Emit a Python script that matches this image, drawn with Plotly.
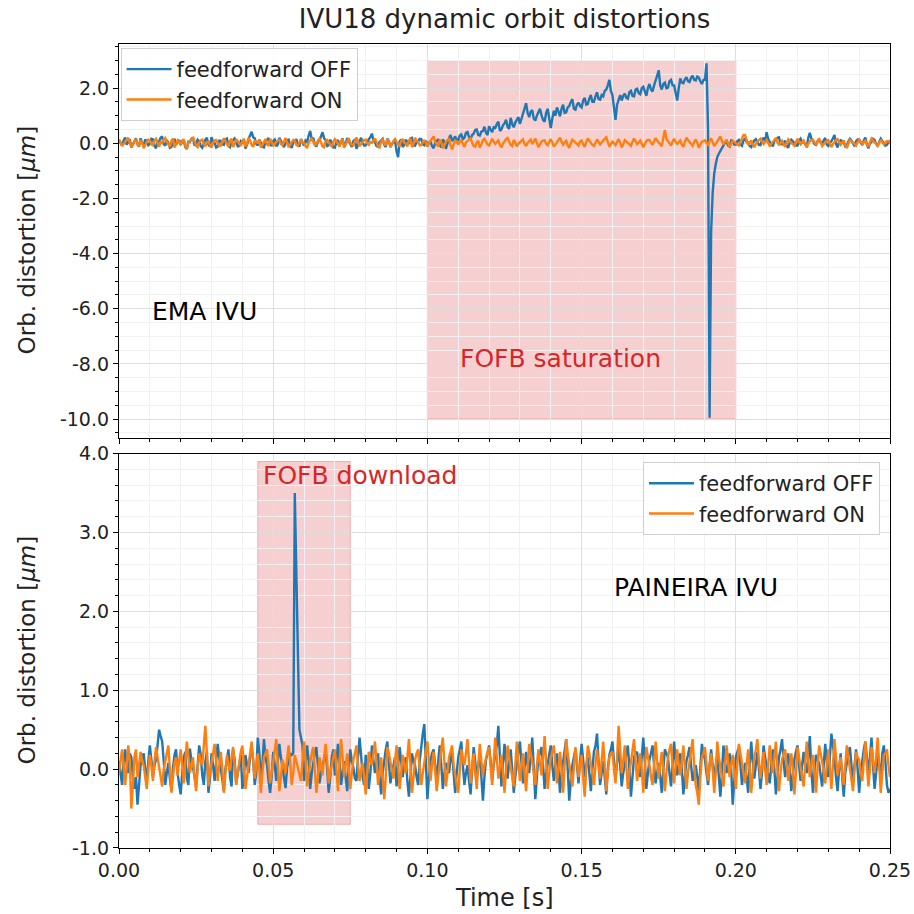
import numpy as np
import plotly.graph_objects as go
from plotly.subplots import make_subplots

# sample step of the recorded signals [s]
dt = 0.0005

# EMA IVU, orbit distortion [um]
ema_off = [
    0.12, 0.02, -0.08, 0.1, 0.21, -0.05, 0.03, 0.15, -0.15, -0.02, 0.09, 0.18, -0.04, -0.12, 0.18, 0.05, -0.11, 0.14, 0.06, -0.07,
    -0.02, 0.16, 0.14, -0.1, -0.18, 0.04, 0.07, 0.2, 0.25, -0.03, -0.09, 0.11, 0.02, -0.16, -0.13, 0.08, 0.16, -0.05, 0.04, 0.12,
    -0.07, 0.09, 0.11, -0.14, -0.21, 0.06, 0.05, 0.17, 0.19, -0.08, -0.03, 0.13, 0.08, -0.1, -0.16, 0.03, 0.13, 0.2, -0.05, -0.12,
    0.22, 0.07, 0.01, -0.15, -0.12, 0.1, 0.09, -0.04, -0.06, 0.14, 0.17, -0.09, -0.14, 0.05, 0.1, 0.18, 0.06, -0.11, -0.1, 0.08,
    0.04, 0.15, -0.19, -0.06, 0.15, 0.3, 0.42, 0.22, 0.18, -0.02, -0.08, 0.12, 0.03, -0.13, -0.15, 0.06, 0.12, 0.19, -0.02, -0.1,
    0.09, 0.14, -0.11, -0.04, 0.2, 0.07, -0.06, -0.14, 0.01, 0.11, 0.13, -0.08, -0.17, 0.03, 0.07, 0.15, -0.04, -0.12, 0.16, 0.05,
    -0.09, 0.1, 0.05, 0.28, 0.45, 0.14, 0.2, -0.05, -0.12, 0.06, 0.08, 0.25, 0.4, 0.18, 0.11, -0.1, -0.07, 0.13, 0.02, -0.15,
    -0.16, 0.04, 0.12, -0.08, 0.06, 0.17, -0.1, -0.02, 0.19, 0.09, -0.03, -0.13, 0.08, 0.15, -0.2, -0.06, 0.1, 0.2, 0.03, -0.09,
    -0.08, 0.07, 0.15, 0.22, 0.35, 0.1, 0.04, -0.1, -0.13, 0.05, 0.09, 0.16, -0.05, -0.14, 0.17, 0.08, -0.11, -0.03, 0.02, 0.12,
    -0.3, -0.5, 0.07, 0.14, -0.14, -0.05, 0.13, 0.06, -0.02, 0.18, 0.2, -0.08, -0.09, 0.04, 0.06, 0.16, 0.15, -0.04, -0.07, 0.1,
    -0.12, 0.03, 0.05, -0.1, -0.18, 0.0, 0.1, 0.15, -0.06, -0.15, 0.14, 0.05, -0.2, 0.02, 0.18, 0.3, 0.08, 0.15, 0.25, 0.1,
    0.12, 0.28, 0.32, 0.15, 0.2, 0.38, 0.41, 0.22, 0.15, 0.3, 0.35, 0.48, 0.5, 0.3, 0.28, 0.42, 0.45, 0.6, 0.38, 0.3,
    0.62, 0.5, 0.4, 0.58, 0.55, 0.7, 0.78, 0.45, 0.5, 0.65, 0.72, 0.85, 0.6, 0.52, 0.92, 0.7, 0.58, 0.75, 0.85, 0.95,
    0.7, 0.9, 1.05, 1.3, 1.45, 1.1, 0.95, 1.15, 1.2, 0.9, 0.82, 1.0, 1.15, 1.25, 1.02, 0.85, 0.78, 1.1, 1.25, 0.95,
    0.55, 0.9, 1.18, 1.0, 1.3, 1.15, 0.98, 1.25, 1.4, 1.1, 1.12, 1.3, 1.35, 1.5, 1.6, 1.25, 1.22, 1.4, 1.48, 1.35,
    1.3, 1.55, 1.65, 1.4, 1.42, 1.62, 1.75, 1.5, 1.5, 1.7, 1.85, 1.6, 1.58, 1.75, 1.7, 1.9, 1.95, 2.1, 2.3, 1.9,
    1.75, 1.3, 0.85, 1.4, 1.6, 1.75, 1.55, 1.72, 1.8, 1.65, 1.62, 1.85, 1.9, 1.72, 1.7, 1.95, 1.98, 1.82, 1.78, 2.0,
    2.05, 1.85, 1.72, 2.0, 2.15, 1.95, 1.88, 2.1, 2.25, 2.45, 2.65, 2.1, 1.95, 2.15, 2.2, 2.0, 2.02, 2.25, 2.3, 2.1,
    2.1, 1.8, 1.55, 2.0, 2.35, 2.2, 2.18, 2.32, 2.4, 2.25, 2.22, 2.38, 2.45, 2.3, 2.28, 2.42, 2.38, 2.25, 2.15, 2.3,
    2.3, 2.9, 0.5, -9.95, -3.2, -1.8, -1.1, -0.75, -0.5, -0.38, -0.28, -0.2, -0.12, 0.02, 0.05, -0.08, -0.12, 0.1, 0.08, -0.04,
    -0.05, 0.08, 0.12, -0.04, -0.09, 0.1, 0.18, 0.05, 0.03, -0.1, -0.14, 0.02, 0.1, 0.15, 0.02, -0.06, -0.07, 0.12, 0.2, 0.06,
    0.4, 0.15, 0.06, -0.05, -0.11, 0.08, 0.15, 0.2, 0.22, -0.02, -0.04, 0.05, 0.09, -0.1, -0.16, 0.04, 0.13, 0.07, 0.01, -0.08,
    -0.08, 0.1, 0.17, 0.03, 0.05, -0.06, -0.12, 0.2, 0.38, 0.16, 0.1, -0.03, -0.06, 0.08, 0.14, 0.04, -0.02, 0.11, 0.19, -0.05,
    -0.1, 0.02, 0.07, 0.18, 0.3, -0.02, -0.15, 0.04, 0.11, 0.08, 0.03, -0.12, -0.09, 0.06, 0.16, 0.1, -0.04, -0.11, 0.08, 0.14,
    0.13, 0.02, -0.07, 0.1, 0.21, -0.04, -0.18, 0.0, 0.05, 0.16, 0.12, -0.02, -0.1, 0.06, 0.17, 0.09, 0.02, -0.09, -0.06, 0.04,
    0.1,
]
ema_on = [
    0.15, 0.04, -0.1, -0.02, 0.05, 0.14, 0.2, 0.03, -0.14, -0.05, 0.08, 0.12, -0.03, -0.1, 0.12, 0.02, -0.18, -0.06, 0.04, 0.13,
    0.1, -0.04, -0.07, 0.09, 0.16, -0.02, -0.12, 0.05, 0.02, 0.14, 0.19, 0.06, -0.05, -0.13, 0.09, 0.17, -0.15, -0.03, 0.11, 0.04,
    -0.02, 0.08, 0.14, -0.08, -0.2, 0.02, 0.07, 0.15, 0.22, 0.05, -0.09, -0.14, 0.03, 0.1, 0.13, -0.02, -0.11, 0.04, 0.06, -0.07,
    -0.16, 0.02, 0.1, 0.12, 0.01, -0.1, -0.08, 0.06, 0.18, 0.08, -0.04, -0.12, 0.09, 0.16, -0.13, -0.03, 0.15, 0.05, -0.01, -0.09,
    0.07, 0.12, -0.12, -0.02, 0.2, 0.1, -0.06, -0.13, 0.11, 0.04, 0.02, 0.14, -0.15, -0.06, 0.08, 0.15, -0.03, -0.1, 0.16, 0.06,
    -0.1, -0.02, 0.05, 0.11, 0.13, -0.03, -0.07, 0.08, 0.19, 0.02, -0.14, -0.05, 0.04, 0.12, 0.1, -0.06, -0.09, 0.05, 0.14, 0.03,
    0.01, -0.1, -0.17, 0.04, 0.12, 0.16, 0.06, -0.06, -0.05, 0.1, 0.17, 0.02, -0.11, -0.14, 0.08, 0.12, 0.02, -0.04, -0.13, 0.05,
    0.15, 0.08, -0.04, -0.12, 0.09, 0.14, -0.16, -0.05, 0.11, 0.18, 0.03, -0.06, -0.08, 0.1, 0.21, 0.07, -0.1, -0.03, 0.06, 0.12,
    0.13, -0.01, -0.06, 0.05, 0.02, 0.1, 0.18, 0.04, -0.12, -0.15, 0.07, 0.13, -0.02, -0.08, 0.14, 0.06, -0.15, -0.04, 0.09, 0.15,
    0.04, -0.05, -0.09, 0.08, 0.16, 0.03, -0.03, -0.11, 0.1, 0.17, -0.14, -0.02, 0.2, 0.09, 0.05, -0.08, -0.07, 0.04, 0.12, 0.02,
    -0.11, 0.0, 0.08, 0.18, 0.25, 0.06, -0.05, -0.12, 0.13, 0.03, -0.18, -0.04, 0.06, 0.12, 0.15, -0.06, -0.22, -0.05, 0.1, 0.07,
    -0.04, 0.06, 0.12, -0.02, -0.13, 0.03, 0.07, 0.14, 0.18, 0.02, -0.09, -0.12, 0.03, 0.09, -0.16, -0.03, 0.11, 0.16, 0.05, -0.04,
    -0.08, 0.05, 0.16, 0.06, -0.02, 0.04, 0.1, -0.06, -0.15, -0.02, 0.08, 0.15, 0.19, 0.05, -0.06, -0.1, 0.12, 0.03, -0.11, -0.02,
    0.04, 0.1, 0.14, -0.02, -0.1, 0.02, 0.09, 0.13, -0.03, 0.06, 0.17, 0.02, -0.14, -0.05, 0.06, 0.1, 0.11, -0.02, -0.07, 0.05,
    0.15, 0.03, -0.12, -0.05, 0.02, 0.12, 0.2, 0.06, -0.05, 0.03, 0.09, -0.08, -0.17, 0.0, 0.13, 0.08, 0.03, -0.04, -0.08, 0.06,
    0.1, -0.03, -0.13, 0.04, 0.18, 0.09, 0.01, -0.06, -0.1, 0.05, 0.14, 0.05, -0.04, 0.03, 0.08, 0.16, 0.22, 0.04, -0.12, -0.03,
    0.06, 0.0, -0.07, 0.05, 0.15, 0.02, -0.15, -0.04, 0.11, 0.07, 0.02, -0.05, -0.09, 0.06, 0.17, 0.08, -0.03, 0.03, 0.1, -0.02,
    -0.14, -0.03, 0.08, 0.12, 0.12, 0.02, -0.06, 0.07, 0.19, 0.1, 0.04, -0.06, -0.11, 0.2, 0.48, 0.15, 0.07, -0.02, -0.08, 0.06,
    0.16, 0.05, -0.02, 0.04, 0.1, -0.04, -0.13, 0.05, 0.2, 0.12, 0.05, -0.03, -0.09, 0.04, 0.14, 0.02, -0.16, -0.05, 0.06, 0.08,
    0.11, 0.02, -0.05, 0.07, 0.18, 0.04, -0.1, -0.02, 0.08, 0.16, 0.25, 0.08, -0.04, 0.05, 0.13, 0.0, -0.12, -0.02, 0.09, 0.05,
    0.02, -0.04, -0.08, 0.06, 0.15, 0.3, 0.3, 0.1, -0.06, 0.02, 0.1, -0.03, -0.14, -0.02, 0.07, 0.12, 0.17, 0.06, -0.03, 0.05,
    0.12, 0.01, -0.11, -0.02, 0.05, 0.12, 0.19, 0.04, -0.07, 0.02, 0.09, -0.04, -0.13, 0.01, 0.14, 0.07, 0.01, -0.05, -0.09, 0.04,
    0.16, 0.06, -0.04, 0.03, 0.1, -0.03, -0.15, -0.02, 0.08, 0.11, 0.13, 0.04, -0.06, 0.06, 0.18, 0.04, -0.1, -0.03, 0.04, 0.08,
    0.11, -0.02, -0.13, -0.03, 0.07, 0.12, 0.15, 0.05, -0.05, 0.03, 0.1, -0.06, -0.17, -0.02, 0.12, 0.08, 0.03, -0.03, -0.08, 0.04,
    0.14, 0.06, -0.02, 0.04, 0.09, -0.02, -0.12, 0.03, 0.17, 0.1, 0.05, -0.03, -0.1, 0.02, 0.13, 0.04, -0.04, 0.03, 0.08, 0.06,
    0.1,
]

# PAINEIRA IVU, orbit distortion [um]
pai_off = [
    0.1, -0.05, -0.2, 0.1, 0.25, 0.05, -0.05, 0.2, 0.15, -0.1, -0.25, -0.1, -0.45, -0.2, 0.05, 0.15, 0.2, 0.0, -0.15, 0.1,
    0.3, 0.12, -0.1, 0.05, 0.12, 0.3, 0.5, 0.42, 0.35, 0.1, -0.2, -0.05, 0.08, -0.12, -0.28, 0.02, 0.18, 0.25, -0.05, -0.2,
    -0.32, -0.05, 0.15, 0.22, -0.12, -0.2, 0.26, 0.1, 0.02, -0.1, -0.22, 0.05, 0.3, 0.18, -0.08, -0.2, 0.1, 0.22, -0.3, -0.12,
    0.2, 0.05, -0.15, 0.1, 0.32, 0.15, -0.02, -0.15, -0.28, 0.0, 0.14, 0.25, -0.1, -0.22, 0.25, 0.12, -0.18, -0.05, 0.06, 0.18,
    -0.25, -0.1, 0.18, 0.05, -0.05, 0.15, 0.3, 0.12, -0.2, -0.05, 0.4, 0.2, -0.12, 0.05, 0.38, 0.15, 0.05, -0.15, -0.3, -0.1,
    0.22, 0.05, -0.15, 0.1, 0.32, 0.15, 0.0, -0.12, -0.24, 0.02, 0.12, 0.2, 0.18, 0.2, 3.5, 2.6, 1.4, 0.5, 0.4, 0.3,
    -0.15, 0.05, 0.3, 0.1, -0.25, -0.05, 0.1, 0.2, 0.28, 0.05, -0.18, -0.05, 0.04, 0.15, 0.22, 0.0, -0.3, -0.1, 0.15, 0.25,
    -0.08, 0.1, 0.32, 0.12, -0.2, -0.05, 0.1, -0.1, -0.28, 0.02, 0.25, 0.1, 0.02, -0.12, -0.15, 0.15, 0.4, 0.18, -0.1, -0.2,
    0.18, 0.05, -0.25, -0.05, 0.3, 0.12, -0.05, 0.08, 0.2, -0.1, -0.32, -0.05, 0.12, 0.25, 0.35, 0.1, -0.18, -0.05, 0.08, 0.15,
    -0.22, 0.0, 0.28, 0.1, -0.1, 0.05, 0.15, -0.15, -0.35, -0.1, 0.2, 0.1, 0.05, -0.1, -0.2, 0.1, 0.32, 0.45, 0.57, 0.1,
    -0.38, -0.1, 0.1, 0.2, 0.25, 0.05, -0.15, 0.1, 0.3, 0.05, -0.25, -0.05, 0.08, 0.0, -0.05, 0.12, 0.22, -0.05, -0.3, -0.05,
    0.15, 0.25, 0.35, 0.05, -0.2, -0.05, 0.05, -0.15, -0.32, 0.0, 0.28, 0.1, -0.1, 0.05, 0.18, -0.1, -0.4, -0.1, 0.12, 0.2,
    0.3, 0.1, -0.15, 0.05, 0.2, 0.3, 0.55, 0.2, -0.22, 0.05, 0.32, 0.1, -0.12, 0.08, 0.25, 0.0, -0.3, -0.1, 0.1, 0.22,
    0.35, 0.1, -0.18, 0.02, 0.22, 0.05, -0.05, 0.15, 0.4, 0.0, -0.38, -0.1, 0.15, 0.2, 0.28, 0.05, -0.25, -0.05, 0.08, 0.2,
    0.3, 0.05, -0.15, 0.05, 0.2, 0.0, -0.3, -0.05, 0.12, 0.25, 0.38, 0.0, -0.4, -0.15, 0.05, 0.15, 0.25, 0.05, -0.18, 0.1,
    0.32, 0.12, -0.1, 0.05, 0.15, -0.05, -0.28, 0.0, 0.22, 0.3, 0.45, 0.1, -0.2, -0.05, 0.1, -0.1, -0.32, 0.0, 0.18, 0.25,
    0.35, 0.1, -0.12, 0.08, 0.28, 0.05, -0.22, -0.05, 0.05, 0.2, 0.3, 0.0, -0.35, -0.1, 0.15, 0.2, 0.22, 0.05, -0.1, 0.15,
    0.4, 0.1, -0.25, -0.05, 0.12, 0.2, 0.3, 0.05, -0.18, -0.05, 0.08, -0.1, -0.3, 0.0, 0.25, 0.2, 0.15, -0.05, -0.22, 0.05,
    0.35, 0.1, -0.08, 0.05, 0.2, 0.0, -0.32, -0.1, 0.1, 0.18, 0.28, 0.05, -0.15, -0.05, 0.05, -0.1, -0.28, 0.02, 0.32, 0.2,
    0.12, -0.05, -0.2, 0.05, 0.25, 0.05, -0.1, 0.05, 0.18, -0.1, -0.35, -0.05, 0.3, 0.1, -0.05, 0.05, 0.2, 0.0, -0.45, -0.15,
    0.15, 0.22, 0.28, 0.05, -0.2, -0.05, 0.08, -0.1, -0.3, 0.05, 0.35, 0.1, -0.12, 0.05, 0.22, 0.0, -0.25, -0.05, 0.3, 0.15,
    0.05, -0.08, -0.18, 0.05, 0.25, 0.0, -0.32, -0.1, 0.15, 0.25, 0.38, 0.1, -0.1, 0.05, 0.2, 0.0, -0.28, -0.08, 0.12, 0.22,
    0.3, 0.05, -0.15, 0.05, 0.22, 0.05, -0.05, 0.15, 0.42, 0.0, -0.3, -0.05, 0.18, 0.12, 0.08, -0.08, -0.22, 0.05, 0.32, 0.1,
    -0.1, 0.15, 0.45, 0.3, 0.15, -0.1, -0.28, 0.0, 0.2, -0.1, -0.35, -0.05, 0.1, 0.2, 0.28, 0.05, -0.18, 0.05, 0.25, 0.0,
    -0.3, -0.05, 0.12, 0.25, 0.35, 0.1, -0.05, 0.15, 0.4, 0.05, -0.25, -0.05, 0.18, 0.05, -0.1, 0.2, 0.3, 0.1, -0.2, -0.3,
    -0.25,
]
pai_on = [
    -0.05, 0.1, 0.25, 0.05, -0.2, 0.05, 0.3, 0.1, -0.5, -0.2, 0.15, 0.25, -0.1, 0.05, 0.22, 0.1, 0.05, -0.1, -0.25, 0.0,
    0.18, 0.05, -0.15, 0.1, 0.28, 0.15, 0.02, -0.1, -0.22, 0.0, 0.12, 0.2, 0.3, 0.05, -0.3, -0.1, 0.08, 0.15, -0.08, 0.1,
    0.25, 0.05, -0.18, 0.1, 0.35, 0.15, -0.05, 0.05, 0.15, -0.1, -0.28, 0.0, 0.2, 0.1, 0.05, 0.3, 0.55, 0.2, -0.22, -0.05,
    0.1, 0.2, 0.32, 0.05, -0.15, 0.05, 0.22, 0.0, -0.3, -0.05, 0.18, 0.05, -0.02, 0.15, 0.28, 0.05, -0.2, -0.05, 0.12, 0.22,
    0.3, 0.05, -0.25, -0.1, 0.05, 0.2, 0.35, 0.1, -0.12, 0.05, 0.2, 0.0, -0.3, -0.05, 0.15, 0.2, 0.25, 0.05, -0.18, -0.05,
    0.08, 0.2, 0.38, 0.05, -0.28, -0.1, 0.12, 0.05, -0.05, 0.12, 0.3, 0.1, -0.2, -0.05, 0.18, 0.1, 0.02, -0.08, -0.15, 0.1,
    0.35, 0.1, -0.22, -0.05, 0.1, 0.2, 0.28, 0.0, -0.3, -0.1, 0.15, 0.05, -0.08, 0.15, 0.32, 0.1, -0.18, -0.05, 0.05, 0.15,
    0.25, 0.0, -0.28, 0.05, 0.38, 0.15, -0.1, 0.05, 0.2, 0.0, -0.25, -0.05, 0.12, 0.2, 0.3, 0.05, -0.15, -0.02, 0.08, -0.1,
    -0.32, -0.05, 0.22, 0.1, 0.05, 0.2, 0.35, 0.1, -0.2, -0.05, 0.15, -0.1, -0.38, -0.1, 0.28, 0.2, 0.1, 0.0, -0.12, 0.1,
    0.3, 0.05, -0.25, -0.05, 0.18, 0.05, -0.05, 0.15, 0.38, 0.05, -0.3, -0.1, 0.12, 0.2, 0.25, 0.0, -0.2, -0.05, 0.08, 0.2,
    0.35, 0.1, -0.15, 0.05, 0.22, 0.0, -0.28, -0.1, 0.1, 0.25, 0.4, 0.1, -0.22, -0.05, 0.15, 0.22, 0.3, 0.05, -0.1, -0.2,
    -0.3, 0.0, 0.25, 0.1, 0.05, 0.2, 0.38, 0.1, -0.18, 0.0, 0.2, -0.05, -0.25, 0.05, 0.32, 0.1, -0.08, 0.05, 0.15, 0.22,
    0.28, 0.05, -0.2, 0.1, 0.4, 0.15, -0.12, 0.02, 0.18, -0.05, -0.3, 0.0, 0.3, 0.15, 0.02, -0.1, -0.22, 0.05, 0.35, 0.1,
    -0.15, 0.02, 0.2, -0.05, -0.28, 0.02, 0.32, 0.2, 0.1, -0.05, -0.2, 0.05, 0.25, 0.08, -0.08, 0.15, 0.42, 0.1, -0.25, -0.05,
    0.15, 0.22, 0.3, 0.05, -0.18, 0.02, 0.22, 0.0, -0.3, 0.05, 0.38, 0.2, 0.05, -0.1, -0.22, 0.02, 0.28, 0.1, -0.1, 0.05,
    0.18, -0.1, -0.35, 0.0, 0.3, 0.2, 0.08, -0.05, -0.2, 0.05, 0.25, 0.05, -0.12, 0.1, 0.35, 0.05, -0.28, -0.05, 0.15, 0.2,
    0.22, 0.0, -0.18, 0.15, 0.55, 0.25, -0.05, 0.1, 0.3, 0.05, -0.25, -0.05, 0.12, 0.25, 0.38, 0.1, -0.15, 0.0, 0.2, 0.0,
    -0.3, 0.0, 0.28, 0.15, 0.05, -0.1, -0.2, 0.05, 0.35, 0.1, -0.12, 0.05, 0.22, 0.0, -0.28, -0.05, 0.15, 0.25, 0.32, 0.05,
    -0.18, 0.05, 0.25, 0.05, -0.08, 0.1, 0.3, 0.0, -0.25, -0.05, 0.1, 0.25, 0.38, 0.05, -0.2, -0.3, -0.45, -0.1, 0.15, 0.2,
    0.28, 0.05, -0.15, 0.05, 0.2, 0.0, -0.3, -0.05, 0.35, 0.15, 0.02, -0.1, -0.22, 0.05, 0.3, 0.1, -0.1, 0.05, 0.18, 0.0,
    -0.25, 0.05, 0.32, 0.2, 0.08, -0.05, -0.18, 0.05, 0.25, 0.0, -0.3, -0.05, 0.15, 0.25, 0.38, 0.1, -0.12, 0.05, 0.22, 0.0,
    -0.2, 0.05, 0.3, 0.1, -0.05, 0.15, 0.35, 0.0, -0.28, -0.05, 0.12, 0.2, 0.25, 0.05, -0.15, 0.02, 0.2, 0.0, -0.32, -0.05,
    0.28, 0.15, 0.05, -0.1, -0.22, 0.05, 0.35, 0.1, -0.1, 0.05, 0.18, 0.0, -0.3, 0.0, 0.3, 0.2, 0.1, -0.05, -0.18, 0.05,
    0.25, 0.0, -0.25, 0.05, 0.38, 0.15, -0.08, 0.05, 0.15, -0.05, -0.2, 0.05, 0.3, 0.15, 0.02, -0.12, -0.28, 0.0, 0.22, 0.15,
    0.12, -0.05, -0.15, 0.1, 0.35, 0.05, -0.22, 0.0, 0.28, 0.1, -0.05, 0.15, 0.4, 0.05, -0.3, -0.05, 0.18, 0.2, 0.25, 0.05,
    -0.1,
]

# shaded event windows: (t0, t1, y0, y1)
saturation_win = (0.10, 0.20, -10.0, 3.0)
download_win = (0.045, 0.075, -0.7, 3.9)

# axis ticks
x_ticks = [0.0, 0.05, 0.10, 0.15, 0.20, 0.25]
y_ticks_top = [-10, -8, -6, -4, -2, 0, 2]
y_ticks_bottom = [-1, 0, 1, 2, 3, 4]

BLUE = "#1f77b4"
ORANGE = "#ff7f0e"
RED = "#d62728"
TXT = "#222222"
FONT = "DejaVu Sans"

fig = make_subplots(rows=2, cols=1, shared_xaxes=True, vertical_spacing=0.019)

for row, off, on, leg in [(1, ema_off, ema_on, "legend"), (2, pai_off, pai_on, "legend2")]:
    t_off = np.arange(len(off)) * dt
    t_on = np.arange(len(on)) * dt
    fig.add_trace(go.Scatter(x=t_off, y=off, mode="lines", name="feedforward OFF",
                             line=dict(color=BLUE, width=2.4), legend=leg), row=row, col=1)
    fig.add_trace(go.Scatter(x=t_on, y=on, mode="lines", name="feedforward ON",
                             line=dict(color=ORANGE, width=2.4), legend=leg), row=row, col=1)

for row, win in [(1, saturation_win), (2, download_win)]:
    fig.add_shape(type="rect", x0=win[0], x1=win[1], y0=win[2], y1=win[3],
                  fillcolor="rgba(214,39,40,0.22)", line=dict(color="rgba(214,39,40,0.3)", width=1),
                  layer="below", row=row, col=1)

fig.add_annotation(x=0.01, y=-6.1, text="EMA IVU", showarrow=False, xanchor="left",
                   font=dict(size=25, color="black"), row=1, col=1)
fig.add_annotation(x=0.11, y=-7.8, text="FOFB saturation", showarrow=False, xanchor="left",
                   font=dict(size=25, color=RED), row=1, col=1)
fig.add_annotation(x=0.046, y=3.72, text="FOFB download", showarrow=False, xanchor="left",
                   font=dict(size=25, color=RED), row=2, col=1)
fig.add_annotation(x=0.16, y=2.3, text="PAINEIRA IVU", showarrow=False, xanchor="left",
                   font=dict(size=25, color="black"), row=2, col=1)

# axis titles
for yc in [0.756, 0.246]:
    fig.add_annotation(x=-0.119, y=yc, xref="paper", yref="paper", text="Orb. distortion [<i>μm</i>]",
                       textangle=-90, showarrow=False, xanchor="center", yanchor="middle",
                       font=dict(size=23, color=TXT))
fig.add_annotation(x=0.5, y=-0.062, xref="paper", yref="paper", text="Time [s]", showarrow=False,
                   xanchor="center", yanchor="middle", font=dict(size=24, color=TXT))

axis_common = dict(showline=True, linecolor="black", linewidth=1.2, mirror=True,
                   ticks="outside", ticklen=5, tickcolor="black", automargin=False,
                   showgrid=True, gridcolor="#dedede", gridwidth=1, zeroline=False,
                   tickfont=dict(size=19, color=TXT))

fig.update_xaxes(range=[0, 0.25], tickvals=x_ticks, ticktext=[f"{v:.2f}" for v in x_ticks],
                 minor=dict(dtick=0.01, ticks="outside", ticklen=3, tickcolor="black",
                            showgrid=True, gridcolor="#f1f1f1"),
                 **axis_common)
fig.update_xaxes(showticklabels=False, row=1, col=1)

fig.update_yaxes(range=[-10.7, 3.6], tickvals=y_ticks_top, ticktext=[f"{v:.1f}" for v in y_ticks_top],
                 minor=dict(dtick=0.5, ticks="outside", ticklen=3, tickcolor="black",
                            showgrid=True, gridcolor="#f1f1f1"),
                 row=1, col=1, **axis_common)
fig.update_yaxes(range=[-1, 4], tickvals=y_ticks_bottom, ticktext=[f"{v:.1f}" for v in y_ticks_bottom],
                 minor=dict(dtick=0.2, ticks="outside", ticklen=3, tickcolor="black",
                            showgrid=True, gridcolor="#f1f1f1"),
                 row=2, col=1, **axis_common)

legend_style = dict(bgcolor="rgba(255,255,255,0.85)", bordercolor="#d0d0d0", borderwidth=1,
                    font=dict(size=21, color=TXT), tracegroupgap=0, itemwidth=45)

fig.update_layout(
    width=914, height=914,
    margin=dict(l=119, r=24, t=44, b=66),
    paper_bgcolor="white", plot_bgcolor="white",
    font=dict(family=FONT, color=TXT),
    title=dict(text="IVU18 dynamic orbit distortions", x=0.5, xref="paper", xanchor="center",
               y=0.979, yref="container", yanchor="middle", font=dict(size=26, color=TXT)),
    legend=dict(x=0.002, y=0.995, xanchor="left", yanchor="top", **legend_style),
    legend2=dict(x=0.987, y=0.48, xanchor="right", yanchor="top", **legend_style),
)

# drop the default 8px page margin so the 914px figure fills the window exactly
fig.write_html("out.html", config={"displayModeBar": False},
               post_script="document.body.style.margin='0';")
